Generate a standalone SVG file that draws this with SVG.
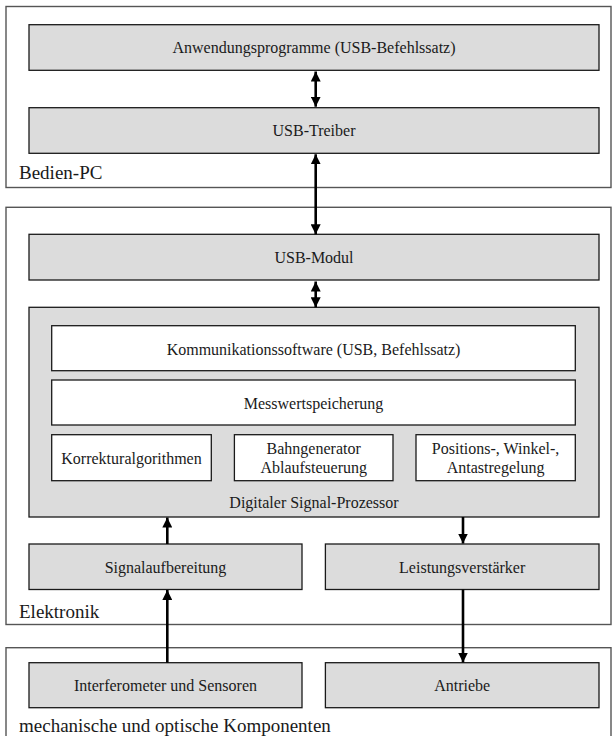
<svg xmlns="http://www.w3.org/2000/svg" width="612" height="736" viewBox="0 0 612 736">
  <style>
    .frame { fill: #ffffff; stroke: #555555; stroke-width: 1.4; }
    .block { fill: #dcdcdc; stroke: #1a1a1a; stroke-width: 1.3; }
    .inner { fill: #ffffff; stroke: #1a1a1a; stroke-width: 1.3; }
    text { font-family: 'Liberation Serif', 'Times New Roman', serif; fill: #1a1a1a; }
    .lbl { font-size: 16px; text-anchor: middle; }
    .area { font-size: 19px; }
    .conn line { stroke: #000000; stroke-width: 2.6; }
  </style>
  <defs>
    <marker id="head" markerUnits="userSpaceOnUse" markerWidth="10" markerHeight="10" refX="10" refY="5" orient="auto-start-reverse">
      <path d="M0,0 L10,5 L0,10 z" fill="#000000"/>
    </marker>
  </defs>

  <!-- Bedien-PC area -->
  <g id="bedien-pc">
    <rect class="frame" x="6" y="6.5" width="605" height="181"/>
    <text class="area" x="19" y="179">Bedien-PC</text>
  </g>
  <g id="anwendungsprogramme">
    <rect class="block" x="29" y="24.7" width="570" height="45.6"/>
    <text class="lbl" x="314" y="53">Anwendungsprogramme (USB-Befehlssatz)</text>
  </g>
  <g id="usb-treiber">
    <rect class="block" x="29" y="107.7" width="570" height="45.6"/>
    <text class="lbl" x="314" y="136">USB-Treiber</text>
  </g>

  <!-- Elektronik area -->
  <g id="elektronik">
    <rect class="frame" x="6" y="207.3" width="605" height="417.2"/>
    <text class="area" x="19" y="617.5">Elektronik</text>
  </g>
  <g id="usb-modul">
    <rect class="block" x="29" y="234.3" width="570" height="45.7"/>
    <text class="lbl" x="314" y="263">USB-Modul</text>
  </g>
  <g id="dsp">
    <rect class="block" x="29" y="307.3" width="570" height="209.7"/>
    <text class="lbl" x="314" y="507.5">Digitaler Signal-Prozessor</text>
  </g>
  <g id="kommunikation">
    <rect class="inner" x="51.7" y="325.7" width="523.6" height="45"/>
    <text class="lbl" x="313.5" y="354.5">Kommunikationssoftware (USB, Befehlssatz)</text>
  </g>
  <g id="messwert">
    <rect class="inner" x="51.7" y="380" width="523.6" height="45"/>
    <text class="lbl" x="313.5" y="409">Messwertspeicherung</text>
  </g>
  <g id="korrektur">
    <rect class="inner" x="51.7" y="434.7" width="159.6" height="46"/>
    <text class="lbl" x="131.5" y="463.8">Korrekturalgorithmen</text>
  </g>
  <g id="bahngenerator">
    <rect class="inner" x="234.4" y="434.7" width="158.6" height="46"/>
    <text class="lbl" x="313.7" y="453.5">Bahngenerator</text>
    <text class="lbl" x="313.7" y="473">Ablaufsteuerung</text>
  </g>
  <g id="regelung">
    <rect class="inner" x="416" y="434.7" width="159.3" height="46"/>
    <text class="lbl" x="495.6" y="453.5">Positions-, Winkel-,</text>
    <text class="lbl" x="495.6" y="473">Antastregelung</text>
  </g>
  <g id="signalaufbereitung">
    <rect class="block" x="29" y="544" width="273" height="45.5"/>
    <text class="lbl" x="165.5" y="572.8">Signalaufbereitung</text>
  </g>
  <g id="leistungsverstaerker">
    <rect class="block" x="325.4" y="544" width="273.6" height="45.5"/>
    <text class="lbl" x="462.2" y="572.8">Leistungsverstärker</text>
  </g>

  <!-- mechanical and optical area -->
  <g id="mechanik">
    <rect class="frame" x="6" y="647.7" width="605" height="100"/>
    <text class="area" x="19" y="731.5">mechanische und optische Komponenten</text>
  </g>
  <g id="interferometer">
    <rect class="block" x="29" y="662.7" width="273" height="45"/>
    <text class="lbl" x="165.5" y="691.2">Interferometer und Sensoren</text>
  </g>
  <g id="antriebe">
    <rect class="block" x="325.4" y="662.7" width="273.6" height="45"/>
    <text class="lbl" x="462.2" y="691.2">Antriebe</text>
  </g>

  <!-- connectors -->
  <g id="connectors" class="conn">
    <line x1="315.7" y1="71.5" x2="315.7" y2="106.7" marker-start="url(#head)" marker-end="url(#head)"/>
    <line x1="315.7" y1="154.3" x2="315.7" y2="234.3" marker-start="url(#head)" marker-end="url(#head)"/>
    <line x1="315.7" y1="281.5" x2="315.7" y2="307.3" marker-start="url(#head)" marker-end="url(#head)"/>
    <line x1="167.3" y1="544" x2="167.3" y2="517.5" marker-end="url(#head)"/>
    <line x1="463" y1="517" x2="463" y2="543.5" marker-end="url(#head)"/>
    <line x1="167.3" y1="662.7" x2="167.3" y2="590" marker-end="url(#head)"/>
    <line x1="463" y1="589.5" x2="463" y2="662.5" marker-end="url(#head)"/>
  </g>
</svg>
